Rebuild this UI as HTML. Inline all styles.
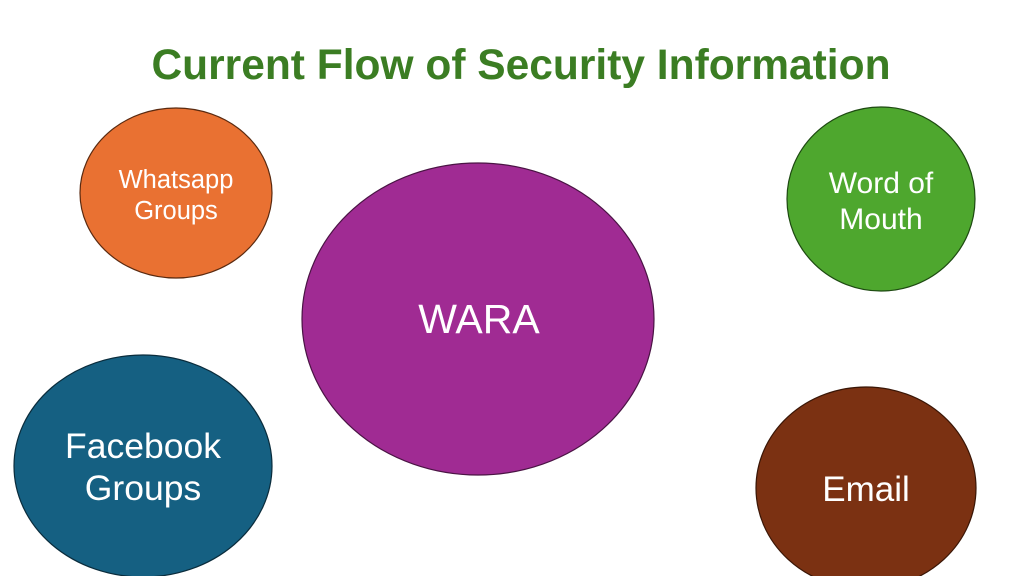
<!DOCTYPE html>
<html><head><meta charset="utf-8"><style>
html,body{margin:0;padding:0;background:#fff;}
svg{display:block;}
text{font-family:"Liberation Sans",sans-serif;}
</style></head><body>
<svg width="1024" height="576" viewBox="0 0 1024 576" xmlns="http://www.w3.org/2000/svg">
<rect width="1024" height="576" fill="#fff"/>
<text x="521" y="79" text-anchor="middle" font-size="42.5" font-weight="bold" fill="#3b7d23">Current Flow of Security Information</text>
<ellipse cx="176" cy="193" rx="96" ry="85" fill="#e97132" stroke="#5a2a10" stroke-width="1.2"/>
<text x="176" y="188" text-anchor="middle" font-size="25.5" fill="#fff">Whatsapp</text>
<text x="176" y="219" text-anchor="middle" font-size="25.5" fill="#fff">Groups</text>
<ellipse cx="881" cy="199" rx="94" ry="92" fill="#4ea72e" stroke="#1e4a12" stroke-width="1.2"/>
<text x="881" y="193" text-anchor="middle" font-size="30" fill="#fff">Word of</text>
<text x="881" y="229" text-anchor="middle" font-size="30" fill="#fff">Mouth</text>
<ellipse cx="478" cy="319" rx="176" ry="156" fill="#a02b93" stroke="#4a1444" stroke-width="1.2"/>
<text x="479" y="333" text-anchor="middle" font-size="41" fill="#fff">WARA</text>
<ellipse cx="143" cy="466" rx="129" ry="111" fill="#156082" stroke="#0a2c3c" stroke-width="1.2"/>
<text x="143" y="458" text-anchor="middle" font-size="35.5" fill="#fff">Facebook</text>
<text x="143" y="500" text-anchor="middle" font-size="35.5" fill="#fff">Groups</text>
<ellipse cx="866" cy="488" rx="110" ry="101" fill="#7b3112" stroke="#3a1606" stroke-width="1.2"/>
<text x="866" y="501" text-anchor="middle" font-size="35" fill="#fff">Email</text>
</svg>
</body></html>
